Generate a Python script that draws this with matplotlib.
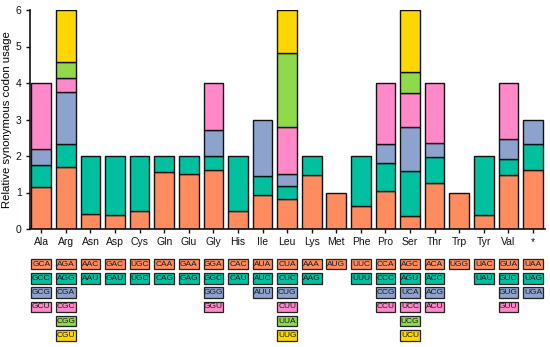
import matplotlib
matplotlib.use("Agg")
import matplotlib.pyplot as plt
from matplotlib.patches import Rectangle
from matplotlib.transforms import blended_transform_factory

plt.rcParams['font.family'] = ['Liberation Sans', 'DejaVu Sans']

amino_acids = ["Ala", "Arg", "Asn", "Asp", "Cys", "Gln", "Glu", "Gly", "His", "Ile",
               "Leu", "Lys", "Met", "Phe", "Pro", "Ser", "Thr", "Trp", "Tyr", "Val", "*"]

codons = [
    ["GCA", "GCC", "GCG", "GCU"],
    ["AGA", "AGG", "CGA", "CGC", "CGG", "CGU"],
    ["AAC", "AAU"],
    ["GAC", "GAU"],
    ["UGC", "UGC"],
    ["CAA", "CAG"],
    ["GAA", "GAG"],
    ["GGA", "GGC", "GGG", "GGU"],
    ["CAC", "CAU"],
    ["AUA", "AUC", "AUU"],
    ["CUA", "CUC", "CUG", "CUU", "UUA", "UUG"],
    ["AAA", "AAG"],
    ["AUG"],
    ["UUC", "UUU"],
    ["CCA", "CCC", "CCG", "CCU"],
    ["AGC", "AGU", "UCA", "UCC", "UCG", "UCU"],
    ["ACA", "ACC", "ACG", "ACU"],
    ["UGG"],
    ["UAC", "UAU"],
    ["GUA", "GUC", "GUG", "GUU"],
    ["UAA", "UAG", "UGA"],
]

rscu = [
    [1.14, 0.62, 0.44, 1.80],
    [1.70, 0.62, 1.42, 0.40, 0.44, 1.42],
    [0.42, 1.58],
    [0.38, 1.62],
    [0.48, 1.52],
    [1.57, 0.43],
    [1.52, 0.48],
    [1.63, 0.38, 0.70, 1.29],
    [0.48, 1.52],
    [0.93, 0.52, 1.55],
    [0.81, 0.36, 0.35, 1.27, 2.03, 1.18],
    [1.49, 0.51],
    [1.00],
    [0.64, 1.36],
    [1.05, 0.75, 0.53, 1.67],
    [0.36, 1.23, 1.21, 0.93, 0.57, 1.70],
    [1.26, 0.70, 0.39, 1.65],
    [1.00],
    [0.38, 1.62],
    [1.49, 0.43, 0.54, 1.54],
    [1.63, 0.71, 0.66],
]

colors = ["#FF8C5F", "#00C0A0", "#8DA2CC", "#FF88C8", "#8FD94A", "#FFD700"]

W, H = 550, 347
fig = plt.figure(figsize=(W / 100, H / 100), dpi=100)
ax = fig.add_axes([30 / W, 1 - 229 / H, 515 / W, 219 / H])

x = list(range(len(amino_acids)))
bw = 0.8
for i, vals in enumerate(rscu):
    bottom = 0.0
    for j, v in enumerate(vals):
        ax.bar(i, v, width=bw, bottom=bottom, color=colors[j],
               edgecolor="#111111", linewidth=1.0, zorder=2)
        bottom += v

ax.set_xlim(-0.46, 20.49)
ax.set_ylim(0, 6.0)
ax.set_yticks([0, 1, 2, 3, 4, 5, 6])
ax.set_xticks(x)
ax.set_xticklabels(amino_acids)
ax.tick_params(axis="both", direction="out", length=3, width=1.0, labelsize=7.5,
               colors="#111111", pad=3)
for s in ["top", "right"]:
    ax.spines[s].set_visible(False)
for s in ["left", "bottom"]:
    ax.spines[s].set_linewidth(1.2)
    ax.spines[s].set_color("#111111")
ax.set_ylabel("Relative synonymous codon usage", fontsize=8.2, labelpad=3)

# codon legend boxes under each bar
trans = blended_transform_factory(ax.transData, fig.transFigure)
row_y0 = 264  # pixel center of first row
row_step = 14.3
box_h = 10.5
for i, cods in enumerate(codons):
    for j, c in enumerate(cods):
        yc = row_y0 + j * row_step
        yb = 1 - (yc + box_h / 2) / H
        rect = Rectangle((i - bw / 2, yb), bw, box_h / H, transform=trans,
                         facecolor=colors[j], edgecolor="#222222", linewidth=0.9,
                         clip_on=False)
        fig.add_artist(rect)
        fig.text(i, 1 - yc / H, c, transform=trans, ha="center", va="center",
                 fontsize=6.0, color="#1a1a1a")

fig.savefig("out.png", dpi=100)
